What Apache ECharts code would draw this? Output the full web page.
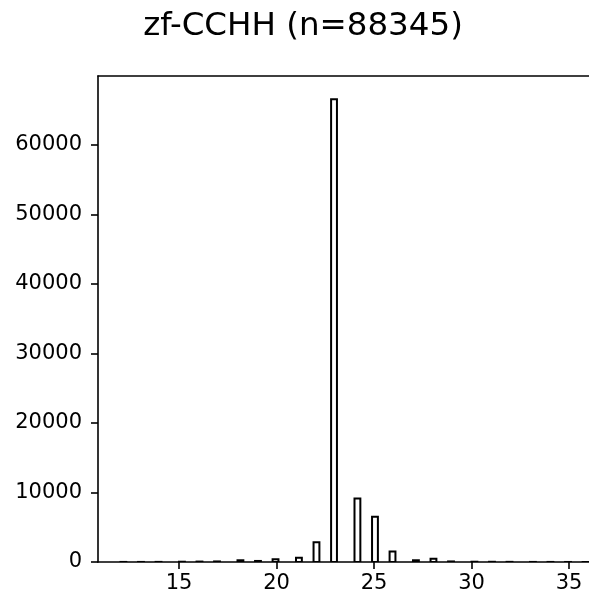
<!DOCTYPE html>
<html>
<head>
<meta charset="utf-8">
<script src="https://cdn.jsdelivr.net/npm/echarts@6/dist/echarts.min.js"></script>
<style>
html,body{margin:0;padding:0;background:#fff;}
#c{width:589px;height:598px;}
</style>
</head>
<body>
<div id="c"></div>
<script>
var titleText = 'zf-CCHH (n=88345)';
var binLeft  = [12.0, 12.9, 13.8, 15.0, 15.9, 16.8, 18.0, 18.9, 19.8, 21.0, 21.9, 22.8, 24.0, 24.9, 25.8, 27.0, 27.9, 28.8, 30.0, 30.9, 31.8, 33.0, 33.9, 34.8, 35.7];
var binRight = [12.3, 13.2, 14.1, 15.3, 16.2, 17.1, 18.3, 19.2, 20.1, 21.3, 22.2, 23.1, 24.3, 25.2, 26.1, 27.3, 28.2, 29.1, 30.3, 31.2, 32.1, 33.3, 34.2, 35.1, 36.0];
var counts   = [10, 10, 15, 40, 60, 80, 250, 150, 400, 600, 2850, 66600, 9150, 6500, 1500, 250, 450, 80, 40, 30, 20, 10, 10, 5, 3];
var xTicks = [15, 20, 25, 30, 35];
var yTicks = [0, 10000, 20000, 30000, 40000, 50000, 60000];
var xMin = 10.846, xMax = 36.026, yMax = 69930;

var data = binLeft.map(function (l, i) { return [l, binRight[i], counts[i]]; });
var font = 'DejaVu Sans';
var chart = echarts.init(document.getElementById('c'), null, {renderer: 'canvas'});
chart.setOption({
  animation: false,
  backgroundColor: '#fff',
  title: {
    text: titleText, left: 298, textAlign: 'center', top: 5,
    textStyle: {fontFamily: font, fontSize: 32.5, fontWeight: 'normal', color: '#000'}
  },
  grid: {left: 98, top: 76, right: 0, height: 486, containLabel: false},
  xAxis: [{
    type: 'value', min: xMin, max: xMax, position: 'bottom',
    splitLine: {show: false},
    axisLine: {show: true, onZero: false, lineStyle: {color: '#000', width: 1.6}},
    axisTick: {show: true, length: 7, lineStyle: {color: '#000', width: 1.6}, customValues: xTicks},
    axisLabel: {show: true, margin: 11, color: '#000', fontFamily: font, fontSize: 21, customValues: xTicks,
      formatter: function (v) { return String(v); }}
  }, {
    type: 'value', min: xMin, max: xMax, position: 'top',
    splitLine: {show: false},
    axisLine: {show: true, onZero: false, lineStyle: {color: '#000', width: 1.6}},
    axisTick: {show: false}, axisLabel: {show: false}
  }],
  yAxis: [{
    type: 'value', min: 0, max: yMax,
    splitLine: {show: false},
    axisLine: {show: true, onZero: false, lineStyle: {color: '#000', width: 1.6}},
    axisTick: {show: true, length: 7, lineStyle: {color: '#000', width: 1.6}, customValues: yTicks},
    axisLabel: {show: true, margin: 16, color: '#000', fontFamily: font, fontSize: 21, customValues: yTicks,
      formatter: function (v) { return String(v); }}
  }],
  series: [{
    type: 'custom',
    xAxisIndex: 0, yAxisIndex: 0,
    data: data,
    encode: {x: [0, 1], y: 2},
    clip: true,
    renderItem: function (params, api) {
      var p0 = api.coord([api.value(0), 0]);
      var p1 = api.coord([api.value(1), api.value(2)]);
      return {
        type: 'rect',
        shape: {x: p0[0], y: p1[1], width: p1[0] - p0[0], height: p0[1] - p1[1]},
        style: {fill: '#fff', stroke: '#000', lineWidth: 2}
      };
    }
  }]
});
</script>
</body>
</html>
